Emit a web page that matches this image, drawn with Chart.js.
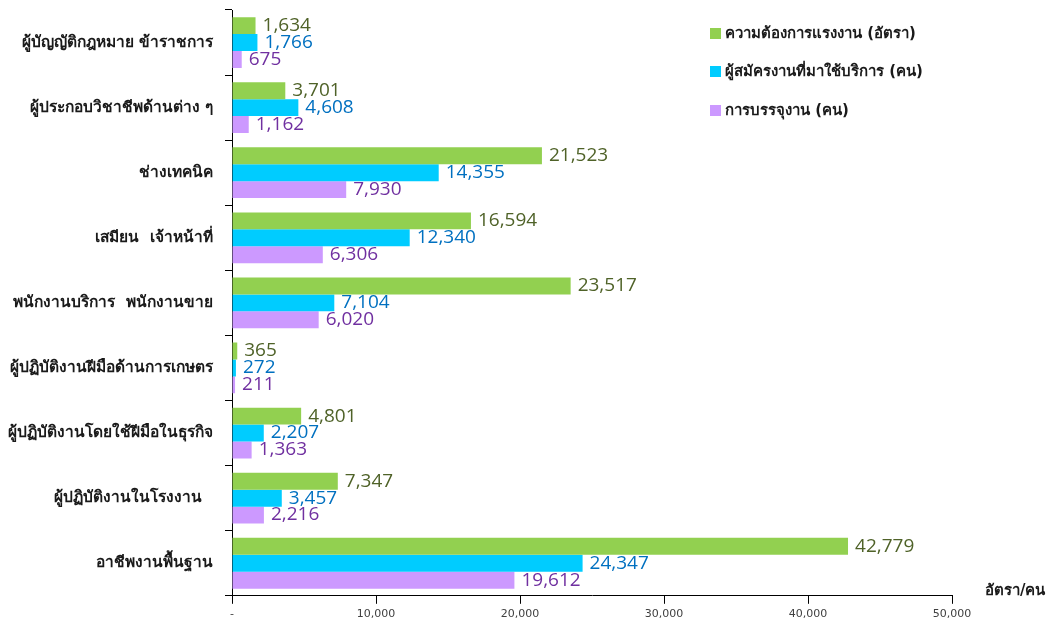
<!DOCTYPE html>
<html><head><meta charset="utf-8">
<script src="https://cdn.jsdelivr.net/npm/chart.js@4"></script>
<style>html,body{margin:0;padding:0;background:#fff}#w{position:relative;width:1050px;height:626px}</style>
</head><body><div id="w"><canvas id="c" width="1050" height="626"></canvas></div>
<script>
const categories = ["ผู้บัญญัติกฎหมาย ข้าราชการ","ผู้ประกอบวิชาชีพด้านต่าง ๆ","ช่างเทคนิค","เสมียน  เจ้าหน้าที่","พนักงานบริการ  พนักงานขาย","ผู้ปฏิบัติงานฝีมือด้านการเกษตร","ผู้ปฏิบัติงานโดยใช้ฝีมือในธุรกิจ","ผู้ปฏิบัติงานในโรงงาน  ","อาชีพงานพื้นฐาน"];
const seriesNames = ["ความต้องการแรงงาน (อัตรา)","ผู้สมัครงานที่มาใช้บริการ (คน)","การบรรจุงาน (คน)"];
const demand = [1634,3701,21523,16594,23517,365,4801,7347,42779];
const applicants = [1766,4608,14355,12340,7104,272,2207,3457,24347];
const placement = [675,1162,7930,6306,6020,211,1363,2216,19612];
const xTicks = [0,10000,20000,30000,40000,50000];
const unitLabel = "อัตรา/คน";

const barColors = ["#92D050","#00CCFF","#CC99FF"];
const labelColors = ["#4F6228","#0070C0","#7030A0"];
const FONT = "Tahoma, 'DejaVu Sans', 'Noto Sans', sans-serif";
const NUMFONT = "'Open Sans', 'DejaVu Sans', sans-serif";

const labelsPlugin = {
  id:'vlabels',
  afterDatasetsDraw(chart){
    const ctx = chart.ctx;
    ctx.save();
    ctx.font = "500 19px " + NUMFONT;
    ctx.textBaseline = 'middle';
    ctx.textAlign = 'left';
    chart.data.datasets.forEach((ds,i)=>{
      const meta = chart.getDatasetMeta(i);
      meta.data.forEach((bar,j)=>{
        ctx.fillStyle = labelColors[i];
        ctx.fillText(ds.data[j].toLocaleString('en-US'), bar.x + 7, bar.y);
      });
    });
    // legend
    ctx.font = "bold 15px " + FONT;
    const ly = [33,71,110];
    seriesNames.forEach((n,i)=>{
      ctx.fillStyle = barColors[i];
      ctx.fillRect(710, ly[i]-5, 11, 11);
      ctx.fillStyle = "#1a1a1a";
      ctx.fillText(n, 725, ly[i]+1);
    });
    ctx.font = "bold 15px " + FONT;
    ctx.fillStyle = "#1a1a1a";
    ctx.fillText(unitLabel, 985, 591);
    ctx.restore();
  }
};

new Chart(document.getElementById('c'), {
  type:'bar',
  data:{
    labels: categories,
    datasets:[
      {label:seriesNames[0], data:demand, backgroundColor:barColors[0]},
      {label:seriesNames[1], data:applicants, backgroundColor:barColors[1]},
      {label:seriesNames[2], data:placement, backgroundColor:barColors[2]}
    ]
  },
  options:{
    indexAxis:'y',
    responsive:false,
    animation:false,
    layout:{padding:{left:0,right:98,top:10,bottom:1}},
    datasets:{bar:{categoryPercentage:0.78,barPercentage:1.0}},
    plugins:{legend:{display:false},tooltip:{enabled:false}},
    scales:{
      x:{
        min:0,max:50000,
        afterBuildTicks(s){ s.ticks = xTicks.map(v=>({value:v})); },
        ticks:{font:{size:11,family:FONT},color:"#404040",padding:4,
          callback:(v)=> v===0 ? "-" : Number(v).toLocaleString('en-US')},
        grid:{display:true,drawOnChartArea:false,drawTicks:true,tickLength:8,color:"#000"},
        border:{display:true,color:"#000",width:1}
      },
      y:{
        afterFit(s){ s.width = 232; s.paddingTop = 0; s.paddingBottom = 0; },
        ticks:{font:{size:15.5,family:FONT,weight:'bold'},color:"#1a1a1a",padding:12},
        grid:{display:true,drawOnChartArea:false,drawTicks:true,tickLength:7,offset:true,color:"#000"},
        border:{display:true,color:"#000",width:1}
      }
    }
  },
  plugins:[labelsPlugin]
});
</script></body></html>
